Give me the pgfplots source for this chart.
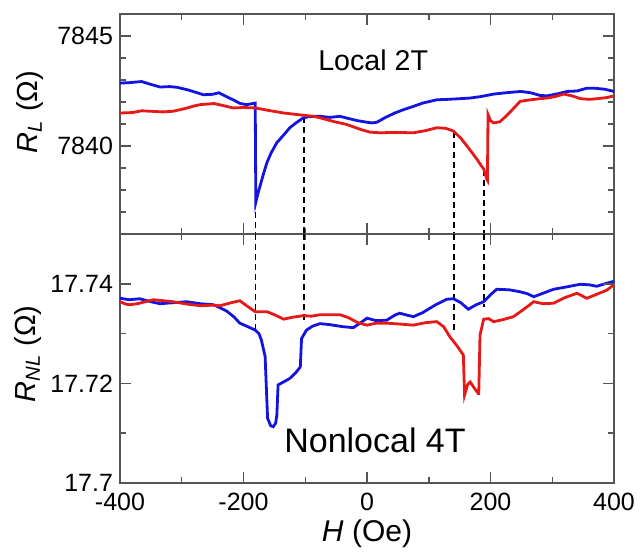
\documentclass[border=0pt]{standalone}
\usepackage{pgfplots}
\pgfplotsset{compat=1.18}
\usepackage{fontspec}
\setmainfont{Liberation Sans}
\definecolor{cblue}{RGB}{20,20,225}
\definecolor{cred}{RGB}{230,25,25}
\definecolor{axgray}{RGB}{85,85,85}
\tikzset{tk/.style={draw=axgray, line width=0.75pt}}
\pgfplotsset{
 common/.style={
  width=247pt, scale only axis, xmin=-400, xmax=400, clip=false,
  xtick={-400,-200,0,200,400}, minor xtick={-300,-100,100,300},
  tick align=inside, major tick length=5.5pt, minor tick length=2.8pt,
  axis line style={axgray, line width=0.75pt},
  tick style={draw=axgray, line width=0.75pt},
  tick label style={font=\fontsize{12.5}{14}\selectfont, black},
 },
 dashln/.style={black, line width=0.7pt, dash pattern=on 3pt off 2pt},
 blueln/.style={cblue, line width=1.4pt},
 redln/.style={cred, line width=1.4pt},
}
\begin{document}
\begin{tikzpicture}
\begin{axis}[common, at={(0pt,124.5pt)}, anchor=south west, height=110pt,
  ymin=7836, ymax=7846, ytick={7840,7845}, yticklabels={7840,7845},
  minor ytick={7837,7838,7839,7841,7842,7843,7844},
  xticklabel style={opacity=0}]
\addplot[dashln] coordinates {(-181,7837.45) (-181,7836)};
\addplot[dashln] coordinates {(-102,7841.3) (-102,7836)};
\addplot[dashln] coordinates {(141,7840.65) (141,7836)};
\addplot[dashln] coordinates {(189.5,7838.9) (189.5,7836)};
\addplot[blueln] coordinates {
(-400,7842.86) (-385,7842.88) (-365,7842.93) (-350,7842.8) (-335,7842.68) (-320,7842.7) (-308,7842.67) (-290,7842.55) (-275,7842.42) (-265,7842.33) (-250,7842.35) (-240,7842.42) (-230,7842.28) (-217,7842.1) (-205,7841.93) (-195,7841.88) (-185,7841.93) (-181,7841.95) (-180.5,7839.5) (-180,7837.45) (-177,7837.8) (-173,7838.2) (-168,7838.7) (-162,7839.25) (-155,7839.7) (-146,7840.15) (-135,7840.5) (-125,7840.83) (-115,7841.05) (-103,7841.28) (-95,7841.33) (-87,7841.35) (-76,7841.35) (-60,7841.3) (-44,7841.35) (-30,7841.25) (-15,7841.15) (0,7841.08) (8,7841.05) (16,7841.08) (30,7841.3) (45,7841.5) (59,7841.65) (75,7841.8) (90,7841.95) (113,7842.1) (130,7842.12) (150,7842.15) (167,7842.18) (185,7842.25) (205,7842.36) (225,7842.42) (249,7842.48) (265,7842.42) (280,7842.3) (292,7842.28) (310,7842.38) (324,7842.48) (340,7842.5) (355,7842.62) (367,7842.63) (385,7842.58) (400,7842.48)
};
\addplot[redln] coordinates {
(-400,7841.5) (-380,7841.52) (-365,7841.6) (-351,7841.58) (-330,7841.55) (-314,7841.58) (-295,7841.7) (-280,7841.82) (-270,7841.88) (-248,7841.93) (-230,7841.82) (-217,7841.73) (-200,7841.75) (-181,7841.73) (-160,7841.62) (-135,7841.5) (-110,7841.42) (-87,7841.35) (-76,7841.28) (-55,7841.12) (-33,7840.98) (-10,7840.75) (5,7840.63) (21,7840.6) (45,7840.62) (75,7840.6) (95,7840.7) (113,7840.83) (128,7840.8) (140,7840.68) (152,7840.35) (162,7840.0) (170,7839.7) (178,7839.4) (184,7839.15) (189,7838.95) (194,7838.5) (195,7838.45) (196,7841.43) (200,7841.15) (205,7841.05) (215,7841.1) (225,7841.35) (237,7841.7) (248,7842.03) (265,7842.1) (280,7842.15) (292,7842.18) (305,7842.25) (319,7842.36) (332,7842.28) (346,7842.15) (360,7842.12) (373,7842.15) (388,7842.2) (400,7842.28)
};
\pgfplotsinvokeforeach{-200,0,200}{
  \draw[tk] (axis cs:#1,7836) -- ++(0pt,5.5pt);
  \draw[tk] (axis cs:#1,7846) -- ++(0pt,-5.5pt);}
\pgfplotsinvokeforeach{-300,-100,100,300}{
  \draw[tk] (axis cs:#1,7836) -- ++(0pt,2.8pt);
  \draw[tk] (axis cs:#1,7846) -- ++(0pt,-2.8pt);}
\pgfplotsinvokeforeach{7840,7845}{
  \draw[tk] (axis cs:-400,#1) -- ++(5.5pt,0pt);
  \draw[tk] (axis cs:400,#1) -- ++(-5.5pt,0pt);}
\pgfplotsinvokeforeach{7837,7838,7839,7841,7842,7843,7844}{
  \draw[tk] (axis cs:-400,#1) -- ++(2.8pt,0pt);
  \draw[tk] (axis cs:400,#1) -- ++(-2.8pt,0pt);}
\node[font=\fontsize{14.3}{17}\selectfont] at (axis cs:10,7843.9) {Local 2T};
\node[rotate=90, font=\fontsize{14.5}{17}\selectfont] at (axis description cs:-0.182,0.555) {\textit{R}\textsubscript{\textit{L}} (Ω)};
\end{axis}
\begin{axis}[common, at={(0pt,0pt)}, anchor=south west, height=124.5pt,
  ymin=17.7, ymax=17.75, ytick={17.7,17.72,17.74}, yticklabels={17.7,17.72,17.74},
  minor ytick={17.71,17.73},
  xticklabels={-400,-200,0,200,400},
  xticklabel style={yshift=-1.5pt}]
\addplot[dashln] coordinates {(-181,17.75) (-181,17.7307)};
\addplot[dashln] coordinates {(-102,17.75) (-102,17.7324)};
\addplot[dashln] coordinates {(141,17.75) (141,17.7304)};
\addplot[dashln] coordinates {(189.5,17.75) (189.5,17.7354)};
\addplot[blueln] coordinates {
(-400,17.7371) (-385,17.7368) (-368,17.737) (-350,17.7364) (-335,17.736) (-315,17.7362) (-292,17.7364) (-270,17.736) (-249,17.7358) (-238,17.7352) (-227,17.7345) (-215,17.7333) (-206,17.7321) (-195,17.7315) (-181,17.7307) (-175,17.7300) (-171,17.7287) (-165,17.7254) (-161,17.713) (-156,17.7115) (-152,17.7113) (-148,17.712) (-146,17.7136) (-144,17.7197) (-135,17.7203) (-125,17.721) (-115,17.7222) (-108,17.7233) (-106,17.729) (-98,17.7307) (-88,17.7315) (-76,17.732) (-60,17.7318) (-40,17.7314) (-22,17.7312) (-10,17.7322) (0,17.7331) (15,17.7326) (32,17.7327) (45,17.7337) (53,17.7341) (65,17.7337) (75,17.7334) (90,17.7342) (110,17.7357) (129,17.7369) (140,17.737) (152,17.7362) (164,17.7349) (177,17.7358) (189,17.7364) (200,17.7378) (210,17.7389) (230,17.7388) (248,17.7384) (260,17.738) (270,17.7374) (285,17.7381) (302,17.7389) (320,17.7393) (345,17.7399) (360,17.7398) (372,17.7395) (385,17.74) (400,17.7405)
};
\addplot[redln] coordinates {
(-400,17.7364) (-390,17.7359) (-384,17.7358) (-372,17.736) (-362,17.7363) (-346,17.7368) (-330,17.7366) (-314,17.7364) (-290,17.7359) (-270,17.7356) (-250,17.7357) (-238,17.7356) (-220,17.7362) (-206,17.7366) (-195,17.7356) (-181,17.7344) (-162,17.7344) (-150,17.7338) (-135,17.7329) (-120,17.7333) (-103,17.7336) (-90,17.7335) (-76,17.7338) (-60,17.7338) (-44,17.7338) (-30,17.7332) (-15,17.7322) (0,17.7317) (15,17.7321) (32,17.7321) (55,17.7319) (75,17.7317) (95,17.7322) (113,17.7324) (124,17.7314) (134,17.7294) (146,17.7275) (156,17.7257) (158,17.7177) (163,17.7198) (167,17.7203) (173,17.7192) (180,17.718) (181,17.718) (183,17.7297) (189,17.7329) (197,17.733) (205,17.7324) (220,17.7328) (237,17.7334) (253,17.7348) (270,17.7364) (285,17.736) (302,17.7361) (320,17.7372) (340,17.7381) (356,17.7371) (372,17.7379) (388,17.7387) (400,17.7398)
};
\pgfplotsinvokeforeach{-200,0,200}{
  \draw[tk] (axis cs:#1,17.7) -- ++(0pt,5.5pt);
  \draw[tk] (axis cs:#1,17.75) -- ++(0pt,-5.5pt);}
\pgfplotsinvokeforeach{-300,-100,100,300}{
  \draw[tk] (axis cs:#1,17.7) -- ++(0pt,2.8pt);
  \draw[tk] (axis cs:#1,17.75) -- ++(0pt,-2.8pt);}
\pgfplotsinvokeforeach{17.72,17.74}{
  \draw[tk] (axis cs:-400,#1) -- ++(5.5pt,0pt);
  \draw[tk] (axis cs:400,#1) -- ++(-5.5pt,0pt);}
\pgfplotsinvokeforeach{17.71,17.73}{
  \draw[tk] (axis cs:-400,#1) -- ++(2.8pt,0pt);
  \draw[tk] (axis cs:400,#1) -- ++(-2.8pt,0pt);}
\node[font=\fontsize{17}{20}\selectfont] at (axis cs:13,17.7086) {Nonlocal 4T};
\node[rotate=90, font=\fontsize{14.5}{17}\selectfont] at (axis description cs:-0.186,0.518) {\textit{R}\textsubscript{\textit{NL}} (Ω)};
\node[font=\fontsize{15}{18}\selectfont] at (axis description cs:0.5,-0.205) {\textit{H} (Oe)};
\end{axis}
\pgfresetboundingbox
\useasboundingbox (-60pt,-34.5pt) rectangle (260.5pt,241.5pt);
\end{tikzpicture}
\end{document}
